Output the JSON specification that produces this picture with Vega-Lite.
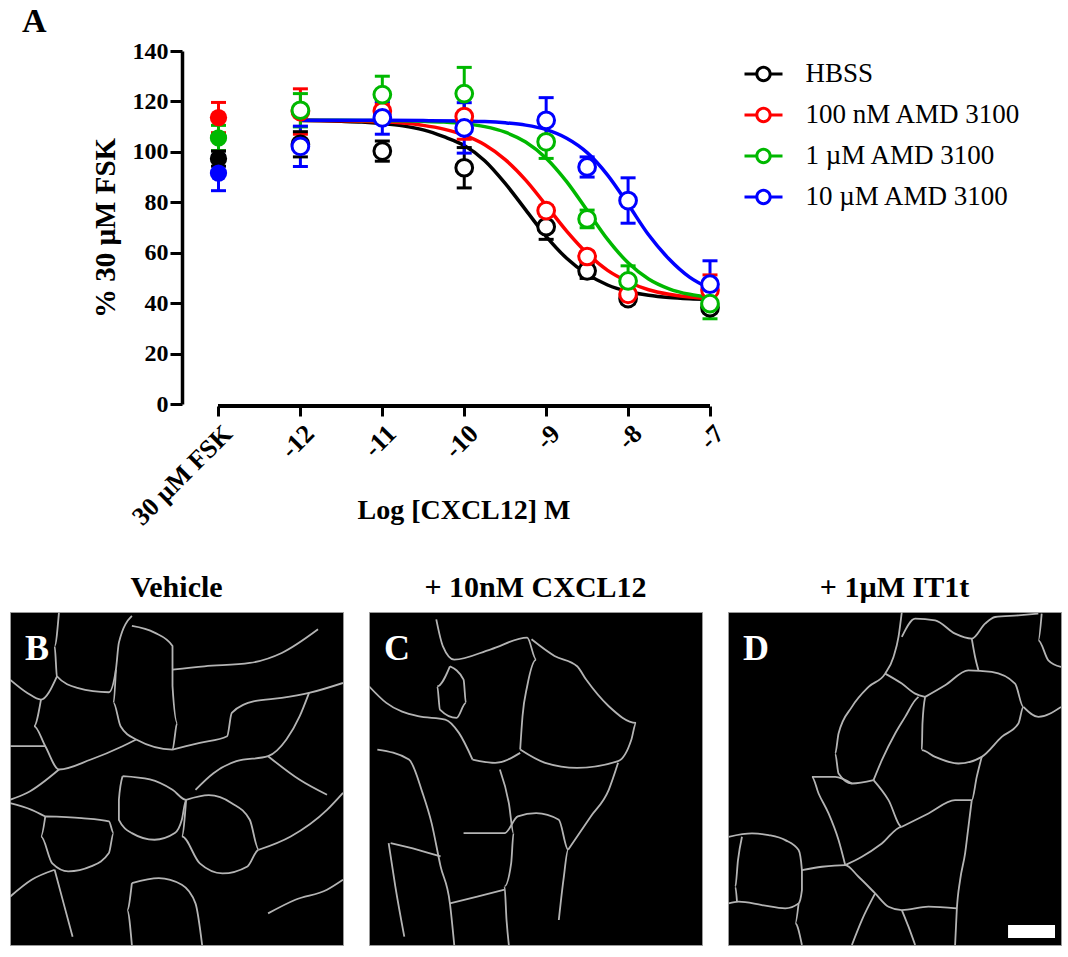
{
  "$schema": "https://vega.github.io/schema/vega-lite/v6.json",
  "padding": {"left": 9, "top": 5, "right": 5, "bottom": 5},
  "autosize": {"type": "pad"},
  "background": "white",
  "config": {
    "font": "Liberation Serif",
    "view": {"stroke": null},
    "axis": {"labelColor": "black", "titleColor": "black", "domainColor": "black", "tickColor": "black"}
  },
  "datasets": {
    "points": [
      {"series": "HBSS", "x": -13, "y": 97.3, "lo": 94.3, "hi": 100.3},
      {"series": "100 nM AMD 3100", "x": -13, "y": 113.6, "lo": 107.6, "hi": 119.6},
      {"series": "1 µM AMD 3100", "x": -13, "y": 105.5, "lo": 100.5, "hi": 110.5},
      {"series": "10 µM AMD 3100", "x": -13, "y": 91.6, "lo": 84.6, "hi": 98.6},
      {"series": "HBSS", "x": -12, "y": 103, "lo": 98, "hi": 108},
      {"series": "100 nM AMD 3100", "x": -12, "y": 116, "lo": 107, "hi": 125},
      {"series": "1 µM AMD 3100", "x": -12, "y": 116.5, "lo": 109.9, "hi": 123.1},
      {"series": "10 µM AMD 3100", "x": -12, "y": 102.2, "lo": 94.2, "hi": 110.2},
      {"series": "HBSS", "x": -11, "y": 100.3, "lo": 96.3, "hi": 104.3},
      {"series": "100 nM AMD 3100", "x": -11, "y": 116.2, "lo": 113.2, "hi": 119.2},
      {"series": "1 µM AMD 3100", "x": -11, "y": 122.7, "lo": 115.4, "hi": 130},
      {"series": "10 µM AMD 3100", "x": -11, "y": 113.5, "lo": 107, "hi": 120},
      {"series": "HBSS", "x": -10, "y": 93.7, "lo": 85.7, "hi": 101.7},
      {"series": "100 nM AMD 3100", "x": -10, "y": 114, "lo": 105, "hi": 123},
      {"series": "1 µM AMD 3100", "x": -10, "y": 123.1, "lo": 112.7, "hi": 133.5},
      {"series": "10 µM AMD 3100", "x": -10, "y": 109.5, "lo": 99.5, "hi": 119.5},
      {"series": "HBSS", "x": -9, "y": 70.3, "lo": 65.3, "hi": 75.3},
      {"series": "100 nM AMD 3100", "x": -9, "y": 76.7, "lo": 74.7, "hi": 78.7},
      {"series": "1 µM AMD 3100", "x": -9, "y": 104, "lo": 97.4, "hi": 110.6},
      {"series": "10 µM AMD 3100", "x": -9, "y": 112.5, "lo": 103.5, "hi": 121.5},
      {"series": "HBSS", "x": -8.5, "y": 52.8, "lo": 49.8, "hi": 55.8},
      {"series": "100 nM AMD 3100", "x": -8.5, "y": 58.5, "lo": 56.5, "hi": 60.5},
      {"series": "1 µM AMD 3100", "x": -8.5, "y": 73.4, "lo": 69.9, "hi": 76.9},
      {"series": "10 µM AMD 3100", "x": -8.5, "y": 94, "lo": 90, "hi": 98},
      {"series": "HBSS", "x": -8, "y": 41.8, "lo": 39.8, "hi": 43.8},
      {"series": "100 nM AMD 3100", "x": -8, "y": 43.5, "lo": 41.5, "hi": 45.5},
      {"series": "1 µM AMD 3100", "x": -8, "y": 48.8, "lo": 42.8, "hi": 54.8},
      {"series": "10 µM AMD 3100", "x": -8, "y": 80.7, "lo": 71.7, "hi": 89.7},
      {"series": "HBSS", "x": -7, "y": 38.2, "lo": 36.2, "hi": 40.2},
      {"series": "100 nM AMD 3100", "x": -7, "y": 45.2, "lo": 39.2, "hi": 51.2},
      {"series": "1 µM AMD 3100", "x": -7, "y": 39.8, "lo": 33.8, "hi": 45.8},
      {"series": "10 µM AMD 3100", "x": -7, "y": 47.5, "lo": 38.2, "hi": 56.8}
    ],
    "curves": [
      {"series": "HBSS", "x": -12, "y": 112.4},
      {"series": "HBSS", "x": -11.75, "y": 112.3},
      {"series": "HBSS", "x": -11.5, "y": 112.1},
      {"series": "HBSS", "x": -11.25, "y": 111.8},
      {"series": "HBSS", "x": -11, "y": 111.2},
      {"series": "HBSS", "x": -10.75, "y": 110.3},
      {"series": "HBSS", "x": -10.5, "y": 108.7},
      {"series": "HBSS", "x": -10.25, "y": 106.0},
      {"series": "HBSS", "x": -10, "y": 102.5},
      {"series": "HBSS", "x": -9.75, "y": 96.5},
      {"series": "HBSS", "x": -9.5, "y": 87.5},
      {"series": "HBSS", "x": -9.25, "y": 77},
      {"series": "HBSS", "x": -9, "y": 66.5},
      {"series": "HBSS", "x": -8.75, "y": 57.8},
      {"series": "HBSS", "x": -8.5, "y": 51.5},
      {"series": "HBSS", "x": -8.25, "y": 47.2},
      {"series": "HBSS", "x": -8, "y": 44.6},
      {"series": "HBSS", "x": -7.75, "y": 43.1},
      {"series": "HBSS", "x": -7.5, "y": 42.2},
      {"series": "HBSS", "x": -7.25, "y": 41.7},
      {"series": "HBSS", "x": -7, "y": 41.4},
      {"series": "100 nM AMD 3100", "x": -12, "y": 112.5},
      {"series": "100 nM AMD 3100", "x": -11.75, "y": 112.4},
      {"series": "100 nM AMD 3100", "x": -11.5, "y": 112.3},
      {"series": "100 nM AMD 3100", "x": -11.25, "y": 112.1},
      {"series": "100 nM AMD 3100", "x": -11, "y": 111.9},
      {"series": "100 nM AMD 3100", "x": -10.75, "y": 111.4},
      {"series": "100 nM AMD 3100", "x": -10.5, "y": 110.5},
      {"series": "100 nM AMD 3100", "x": -10.25, "y": 109.0},
      {"series": "100 nM AMD 3100", "x": -10, "y": 106.6},
      {"series": "100 nM AMD 3100", "x": -9.75, "y": 102.8},
      {"series": "100 nM AMD 3100", "x": -9.5, "y": 96.9},
      {"series": "100 nM AMD 3100", "x": -9.25, "y": 88.8},
      {"series": "100 nM AMD 3100", "x": -9, "y": 78.8},
      {"series": "100 nM AMD 3100", "x": -8.75, "y": 68.6},
      {"series": "100 nM AMD 3100", "x": -8.5, "y": 59.8},
      {"series": "100 nM AMD 3100", "x": -8.25, "y": 53.0},
      {"series": "100 nM AMD 3100", "x": -8, "y": 48.5},
      {"series": "100 nM AMD 3100", "x": -7.75, "y": 45.3},
      {"series": "100 nM AMD 3100", "x": -7.5, "y": 43.5},
      {"series": "100 nM AMD 3100", "x": -7.25, "y": 42.4},
      {"series": "100 nM AMD 3100", "x": -7, "y": 41.8},
      {"series": "1 µM AMD 3100", "x": -12, "y": 112.5},
      {"series": "1 µM AMD 3100", "x": -11.5, "y": 112.5},
      {"series": "1 µM AMD 3100", "x": -11, "y": 112.4},
      {"series": "1 µM AMD 3100", "x": -10.75, "y": 112.3},
      {"series": "1 µM AMD 3100", "x": -10.5, "y": 112.1},
      {"series": "1 µM AMD 3100", "x": -10.25, "y": 111.8},
      {"series": "1 µM AMD 3100", "x": -10, "y": 111.2},
      {"series": "1 µM AMD 3100", "x": -9.75, "y": 110.0},
      {"series": "1 µM AMD 3100", "x": -9.5, "y": 107.8},
      {"series": "1 µM AMD 3100", "x": -9.25, "y": 103.9},
      {"series": "1 µM AMD 3100", "x": -9, "y": 97.5},
      {"series": "1 µM AMD 3100", "x": -8.75, "y": 88.2},
      {"series": "1 µM AMD 3100", "x": -8.5, "y": 76.8},
      {"series": "1 µM AMD 3100", "x": -8.25, "y": 65.3},
      {"series": "1 µM AMD 3100", "x": -8, "y": 56.0},
      {"series": "1 µM AMD 3100", "x": -7.75, "y": 49.6},
      {"series": "1 µM AMD 3100", "x": -7.5, "y": 45.7},
      {"series": "1 µM AMD 3100", "x": -7.25, "y": 43.5},
      {"series": "1 µM AMD 3100", "x": -7, "y": 42.3},
      {"series": "10 µM AMD 3100", "x": -12, "y": 112.5},
      {"series": "10 µM AMD 3100", "x": -11, "y": 112.5},
      {"series": "10 µM AMD 3100", "x": -10.5, "y": 112.4},
      {"series": "10 µM AMD 3100", "x": -10, "y": 112.2},
      {"series": "10 µM AMD 3100", "x": -9.75, "y": 112.0},
      {"series": "10 µM AMD 3100", "x": -9.5, "y": 111.5},
      {"series": "10 µM AMD 3100", "x": -9.25, "y": 110.6},
      {"series": "10 µM AMD 3100", "x": -9, "y": 108.8},
      {"series": "10 µM AMD 3100", "x": -8.75, "y": 105.4},
      {"series": "10 µM AMD 3100", "x": -8.5, "y": 99.7},
      {"series": "10 µM AMD 3100", "x": -8.25, "y": 90.8},
      {"series": "10 µM AMD 3100", "x": -8, "y": 79.2},
      {"series": "10 µM AMD 3100", "x": -7.75, "y": 67.1},
      {"series": "10 µM AMD 3100", "x": -7.5, "y": 57.5},
      {"series": "10 µM AMD 3100", "x": -7.25, "y": 50.3},
      {"series": "10 µM AMD 3100", "x": -7, "y": 45.8}
    ],
    "cells": [
      {"k": "B", "letter": "B"},
      {"k": "C", "letter": "C"},
      {"k": "D", "letter": "D", "bar": 1},
      {"k": "B", "s": "b1", "o": 1, "u": 0.147, "v": 0.998},
      {"k": "B", "s": "b1", "o": 2, "u": 0.134, "v": 0.898},
      {"k": "B", "s": "b1", "o": 3, "u": 0.141, "v": 0.807},
      {"k": "B", "s": "b1", "o": 4, "u": 0.202, "v": 0.772},
      {"k": "B", "s": "b1", "o": 5, "u": 0.297, "v": 0.759},
      {"k": "B", "s": "b1", "o": 6, "u": 0.318, "v": 0.827},
      {"k": "B", "s": "b1", "o": 7, "u": 0.327, "v": 0.908},
      {"k": "B", "s": "b1", "o": 8, "u": 0.366, "v": 0.988},
      {"k": "B", "s": "b2", "o": 1, "u": 0.318, "v": 0.827},
      {"k": "B", "s": "b2", "o": 2, "u": 0.311, "v": 0.727},
      {"k": "B", "s": "b2", "o": 3, "u": 0.332, "v": 0.657},
      {"k": "B", "s": "b2", "o": 4, "u": 0.379, "v": 0.617},
      {"k": "B", "s": "b2", "o": 5, "u": 0.488, "v": 0.587},
      {"k": "B", "s": "b2", "o": 6, "u": 0.502, "v": 0.667},
      {"k": "B", "s": "b2", "o": 7, "u": 0.488, "v": 0.778},
      {"k": "B", "s": "b2", "o": 8, "u": 0.488, "v": 0.898},
      {"k": "B", "s": "b2", "o": 9, "u": 0.434, "v": 0.938},
      {"k": "B", "s": "b2", "o": 10, "u": 0.366, "v": 0.958},
      {"k": "B", "s": "b3", "o": 1, "u": 0.0, "v": 0.797},
      {"k": "B", "s": "b3", "o": 2, "u": 0.052, "v": 0.757},
      {"k": "B", "s": "b3", "o": 3, "u": 0.093, "v": 0.737},
      {"k": "B", "s": "b3", "o": 4, "u": 0.141, "v": 0.807},
      {"k": "B", "s": "b4", "o": 1, "u": 0.093, "v": 0.737},
      {"k": "B", "s": "b4", "o": 2, "u": 0.072, "v": 0.657},
      {"k": "B", "s": "b4", "o": 3, "u": 0.106, "v": 0.597},
      {"k": "B", "s": "b4", "o": 4, "u": 0.147, "v": 0.527},
      {"k": "B", "s": "b4", "o": 5, "u": 0.243, "v": 0.557},
      {"k": "B", "s": "b4", "o": 6, "u": 0.338, "v": 0.597},
      {"k": "B", "s": "b4", "o": 7, "u": 0.379, "v": 0.617},
      {"k": "B", "s": "b5", "o": 1, "u": 0.0, "v": 0.597},
      {"k": "B", "s": "b5", "o": 2, "u": 0.106, "v": 0.597},
      {"k": "B", "s": "b6", "o": 1, "u": 0.147, "v": 0.527},
      {"k": "B", "s": "b6", "o": 2, "u": 0.052, "v": 0.457},
      {"k": "B", "s": "b6", "o": 3, "u": 0.0, "v": 0.436},
      {"k": "B", "s": "b7", "o": 1, "u": 0.488, "v": 0.587},
      {"k": "B", "s": "b7", "o": 2, "u": 0.57, "v": 0.607},
      {"k": "B", "s": "b7", "o": 3, "u": 0.652, "v": 0.627},
      {"k": "B", "s": "b7", "o": 4, "u": 0.666, "v": 0.697},
      {"k": "B", "s": "b7", "o": 5, "u": 0.734, "v": 0.732},
      {"k": "B", "s": "b7", "o": 6, "u": 0.816, "v": 0.742},
      {"k": "B", "s": "b7", "o": 7, "u": 0.898, "v": 0.757},
      {"k": "B", "s": "b7", "o": 8, "u": 1.0, "v": 0.787},
      {"k": "B", "s": "b8", "o": 1, "u": 0.898, "v": 0.757},
      {"k": "B", "s": "b8", "o": 2, "u": 0.87, "v": 0.687},
      {"k": "B", "s": "b8", "o": 3, "u": 0.83, "v": 0.617},
      {"k": "B", "s": "b8", "o": 4, "u": 0.775, "v": 0.567},
      {"k": "B", "s": "b8", "o": 5, "u": 0.68, "v": 0.552},
      {"k": "B", "s": "b8", "o": 6, "u": 0.611, "v": 0.516},
      {"k": "B", "s": "b8", "o": 7, "u": 0.557, "v": 0.466},
      {"k": "B", "s": "b9", "o": 1, "u": 0.488, "v": 0.827},
      {"k": "B", "s": "b9", "o": 2, "u": 0.584, "v": 0.837},
      {"k": "B", "s": "b9", "o": 3, "u": 0.72, "v": 0.847},
      {"k": "B", "s": "b9", "o": 4, "u": 0.816, "v": 0.877},
      {"k": "B", "s": "b9", "o": 5, "u": 0.925, "v": 0.948},
      {"k": "B", "s": "b10", "o": 1, "u": 0.338, "v": 0.507},
      {"k": "B", "s": "b10", "o": 2, "u": 0.327, "v": 0.436},
      {"k": "B", "s": "b10", "o": 3, "u": 0.327, "v": 0.376},
      {"k": "B", "s": "b10", "o": 4, "u": 0.366, "v": 0.336},
      {"k": "B", "s": "b10", "o": 5, "u": 0.434, "v": 0.316},
      {"k": "B", "s": "b10", "o": 6, "u": 0.495, "v": 0.336},
      {"k": "B", "s": "b10", "o": 7, "u": 0.516, "v": 0.376},
      {"k": "B", "s": "b10", "o": 8, "u": 0.529, "v": 0.436},
      {"k": "B", "s": "b10", "o": 9, "u": 0.488, "v": 0.466},
      {"k": "B", "s": "b10", "o": 10, "u": 0.42, "v": 0.497},
      {"k": "B", "s": "b10", "o": 11, "u": 0.338, "v": 0.507},
      {"k": "B", "s": "b11", "o": 1, "u": 0.529, "v": 0.436},
      {"k": "B", "s": "b11", "o": 2, "u": 0.516, "v": 0.326},
      {"k": "B", "s": "b11", "o": 3, "u": 0.57, "v": 0.245},
      {"k": "B", "s": "b11", "o": 4, "u": 0.638, "v": 0.215},
      {"k": "B", "s": "b11", "o": 5, "u": 0.713, "v": 0.236},
      {"k": "B", "s": "b11", "o": 6, "u": 0.747, "v": 0.286},
      {"k": "B", "s": "b11", "o": 7, "u": 0.72, "v": 0.376},
      {"k": "B", "s": "b11", "o": 8, "u": 0.666, "v": 0.426},
      {"k": "B", "s": "b11", "o": 9, "u": 0.597, "v": 0.45},
      {"k": "B", "s": "b11", "o": 10, "u": 0.529, "v": 0.436},
      {"k": "B", "s": "b12", "o": 1, "u": 0.106, "v": 0.386},
      {"k": "B", "s": "b12", "o": 2, "u": 0.093, "v": 0.326},
      {"k": "B", "s": "b12", "o": 3, "u": 0.127, "v": 0.245},
      {"k": "B", "s": "b12", "o": 4, "u": 0.175, "v": 0.221},
      {"k": "B", "s": "b12", "o": 5, "u": 0.243, "v": 0.236},
      {"k": "B", "s": "b12", "o": 6, "u": 0.297, "v": 0.276},
      {"k": "B", "s": "b12", "o": 7, "u": 0.311, "v": 0.336},
      {"k": "B", "s": "b12", "o": 8, "u": 0.297, "v": 0.371},
      {"k": "B", "s": "b12", "o": 9, "u": 0.215, "v": 0.381},
      {"k": "B", "s": "b12", "o": 10, "u": 0.106, "v": 0.386},
      {"k": "B", "s": "b13", "o": 1, "u": 0.0, "v": 0.426},
      {"k": "B", "s": "b13", "o": 2, "u": 0.065, "v": 0.406},
      {"k": "B", "s": "b13", "o": 3, "u": 0.106, "v": 0.386},
      {"k": "B", "s": "b14", "o": 1, "u": 0.366, "v": 0.186},
      {"k": "B", "s": "b14", "o": 2, "u": 0.352, "v": 0.105},
      {"k": "B", "s": "b14", "o": 3, "u": 0.366, "v": 0.0},
      {"k": "B", "s": "b15", "o": 1, "u": 0.366, "v": 0.186},
      {"k": "B", "s": "b15", "o": 2, "u": 0.447, "v": 0.201},
      {"k": "B", "s": "b15", "o": 3, "u": 0.516, "v": 0.181},
      {"k": "B", "s": "b15", "o": 4, "u": 0.557, "v": 0.125},
      {"k": "B", "s": "b15", "o": 5, "u": 0.577, "v": 0.0},
      {"k": "B", "s": "b16", "o": 1, "u": 0.747, "v": 0.286},
      {"k": "B", "s": "b16", "o": 2, "u": 0.843, "v": 0.326},
      {"k": "B", "s": "b16", "o": 3, "u": 0.952, "v": 0.406},
      {"k": "B", "s": "b16", "o": 4, "u": 1.0, "v": 0.457},
      {"k": "B", "s": "b17", "o": 1, "u": 0.775, "v": 0.095},
      {"k": "B", "s": "b17", "o": 2, "u": 0.857, "v": 0.136},
      {"k": "B", "s": "b17", "o": 3, "u": 0.952, "v": 0.166},
      {"k": "B", "s": "b17", "o": 4, "u": 1.0, "v": 0.196},
      {"k": "B", "s": "b18", "o": 1, "u": 0.0, "v": 0.145},
      {"k": "B", "s": "b18", "o": 2, "u": 0.065, "v": 0.196},
      {"k": "B", "s": "b18", "o": 3, "u": 0.134, "v": 0.226},
      {"k": "B", "s": "b19", "o": 1, "u": 0.134, "v": 0.226},
      {"k": "B", "s": "b19", "o": 2, "u": 0.161, "v": 0.125},
      {"k": "B", "s": "b19", "o": 3, "u": 0.188, "v": 0.025},
      {"k": "B", "s": "b20", "o": 1, "u": 0.775, "v": 0.567},
      {"k": "B", "s": "b20", "o": 2, "u": 0.87, "v": 0.496},
      {"k": "B", "s": "b20", "o": 3, "u": 0.952, "v": 0.451},
      {"k": "C", "s": "c1", "o": 1, "u": 0.0, "v": 0.777},
      {"k": "C", "s": "c1", "o": 2, "u": 0.052, "v": 0.727},
      {"k": "C", "s": "c1", "o": 3, "u": 0.147, "v": 0.687},
      {"k": "C", "s": "c1", "o": 4, "u": 0.229, "v": 0.677},
      {"k": "C", "s": "c1", "o": 5, "u": 0.27, "v": 0.637},
      {"k": "C", "s": "c1", "o": 6, "u": 0.311, "v": 0.557},
      {"k": "C", "s": "c2", "o": 1, "u": 0.243, "v": 0.837},
      {"k": "C", "s": "c2", "o": 2, "u": 0.205, "v": 0.777},
      {"k": "C", "s": "c2", "o": 3, "u": 0.213, "v": 0.707},
      {"k": "C", "s": "c2", "o": 4, "u": 0.263, "v": 0.682},
      {"k": "C", "s": "c2", "o": 5, "u": 0.291, "v": 0.727},
      {"k": "C", "s": "c2", "o": 6, "u": 0.284, "v": 0.797},
      {"k": "C", "s": "c2", "o": 7, "u": 0.243, "v": 0.837},
      {"k": "C", "s": "c3", "o": 1, "u": 0.202, "v": 0.978},
      {"k": "C", "s": "c3", "o": 2, "u": 0.222, "v": 0.897},
      {"k": "C", "s": "c3", "o": 3, "u": 0.256, "v": 0.857},
      {"k": "C", "s": "c3", "o": 4, "u": 0.366, "v": 0.888},
      {"k": "C", "s": "c3", "o": 5, "u": 0.475, "v": 0.923},
      {"k": "C", "s": "c3", "o": 6, "u": 0.502, "v": 0.857},
      {"k": "C", "s": "c3", "o": 7, "u": 0.475, "v": 0.777},
      {"k": "C", "s": "c3", "o": 8, "u": 0.461, "v": 0.687},
      {"k": "C", "s": "c3", "o": 9, "u": 0.454, "v": 0.587},
      {"k": "C", "s": "c4", "o": 1, "u": 0.454, "v": 0.587},
      {"k": "C", "s": "c4", "o": 2, "u": 0.529, "v": 0.547},
      {"k": "C", "s": "c4", "o": 3, "u": 0.625, "v": 0.532},
      {"k": "C", "s": "c4", "o": 4, "u": 0.748, "v": 0.552},
      {"k": "C", "s": "c4", "o": 5, "u": 0.788, "v": 0.617},
      {"k": "C", "s": "c4", "o": 6, "u": 0.802, "v": 0.667},
      {"k": "C", "s": "c4", "o": 7, "u": 0.72, "v": 0.717},
      {"k": "C", "s": "c4", "o": 8, "u": 0.652, "v": 0.797},
      {"k": "C", "s": "c4", "o": 9, "u": 0.625, "v": 0.837},
      {"k": "C", "s": "c4", "o": 10, "u": 0.557, "v": 0.868},
      {"k": "C", "s": "c4", "o": 11, "u": 0.488, "v": 0.918},
      {"k": "C", "s": "c5", "o": 1, "u": 0.311, "v": 0.557},
      {"k": "C", "s": "c5", "o": 2, "u": 0.379, "v": 0.547},
      {"k": "C", "s": "c5", "o": 3, "u": 0.454, "v": 0.577},
      {"k": "C", "s": "c6", "o": 1, "u": 0.025, "v": 0.587},
      {"k": "C", "s": "c6", "o": 2, "u": 0.12, "v": 0.557},
      {"k": "C", "s": "c6", "o": 3, "u": 0.161, "v": 0.456},
      {"k": "C", "s": "c6", "o": 4, "u": 0.188, "v": 0.366},
      {"k": "C", "s": "c6", "o": 5, "u": 0.215, "v": 0.236},
      {"k": "C", "s": "c6", "o": 6, "u": 0.243, "v": 0.125},
      {"k": "C", "s": "c6", "o": 7, "u": 0.256, "v": 0.0},
      {"k": "C", "s": "c7", "o": 1, "u": 0.059, "v": 0.306},
      {"k": "C", "s": "c7", "o": 2, "u": 0.079, "v": 0.176},
      {"k": "C", "s": "c7", "o": 3, "u": 0.106, "v": 0.025},
      {"k": "C", "s": "c8", "o": 1, "u": 0.065, "v": 0.306},
      {"k": "C", "s": "c8", "o": 2, "u": 0.147, "v": 0.286},
      {"k": "C", "s": "c8", "o": 3, "u": 0.215, "v": 0.266},
      {"k": "C", "s": "c9", "o": 1, "u": 0.284, "v": 0.336},
      {"k": "C", "s": "c9", "o": 2, "u": 0.407, "v": 0.336},
      {"k": "C", "s": "c9", "o": 3, "u": 0.447, "v": 0.386},
      {"k": "C", "s": "c9", "o": 4, "u": 0.502, "v": 0.396},
      {"k": "C", "s": "c9", "o": 5, "u": 0.57, "v": 0.376},
      {"k": "C", "s": "c9", "o": 6, "u": 0.598, "v": 0.286},
      {"k": "C", "s": "c9", "o": 7, "u": 0.584, "v": 0.196},
      {"k": "C", "s": "c9", "o": 8, "u": 0.57, "v": 0.075},
      {"k": "C", "s": "c10", "o": 1, "u": 0.393, "v": 0.527},
      {"k": "C", "s": "c10", "o": 2, "u": 0.42, "v": 0.426},
      {"k": "C", "s": "c10", "o": 3, "u": 0.434, "v": 0.336},
      {"k": "C", "s": "c10", "o": 4, "u": 0.427, "v": 0.246},
      {"k": "C", "s": "c10", "o": 5, "u": 0.407, "v": 0.176},
      {"k": "C", "s": "c10", "o": 6, "u": 0.413, "v": 0.075},
      {"k": "C", "s": "c10", "o": 7, "u": 0.42, "v": 0.0},
      {"k": "C", "s": "c11", "o": 1, "u": 0.598, "v": 0.286},
      {"k": "C", "s": "c11", "o": 2, "u": 0.666, "v": 0.386},
      {"k": "C", "s": "c11", "o": 3, "u": 0.72, "v": 0.466},
      {"k": "C", "s": "c11", "o": 4, "u": 0.748, "v": 0.547},
      {"k": "C", "s": "c12", "o": 1, "u": 0.243, "v": 0.125},
      {"k": "C", "s": "c12", "o": 2, "u": 0.325, "v": 0.145},
      {"k": "C", "s": "c12", "o": 3, "u": 0.407, "v": 0.166},
      {"k": "D", "s": "d1", "o": 1, "u": 0.522, "v": 1.0},
      {"k": "D", "s": "d1", "o": 2, "u": 0.512, "v": 0.925},
      {"k": "D", "s": "d1", "o": 3, "u": 0.497, "v": 0.865},
      {"k": "D", "s": "d1", "o": 4, "u": 0.472, "v": 0.815},
      {"k": "D", "s": "d1", "o": 5, "u": 0.422, "v": 0.775},
      {"k": "D", "s": "d1", "o": 6, "u": 0.372, "v": 0.715},
      {"k": "D", "s": "d1", "o": 7, "u": 0.332, "v": 0.635},
      {"k": "D", "s": "d1", "o": 8, "u": 0.322, "v": 0.575},
      {"k": "D", "s": "d1", "o": 9, "u": 0.332, "v": 0.515},
      {"k": "D", "s": "d1", "o": 10, "u": 0.372, "v": 0.485},
      {"k": "D", "s": "d1", "o": 11, "u": 0.437, "v": 0.495},
      {"k": "D", "s": "d2", "o": 1, "u": 0.437, "v": 0.495},
      {"k": "D", "s": "d2", "o": 2, "u": 0.462, "v": 0.555},
      {"k": "D", "s": "d2", "o": 3, "u": 0.502, "v": 0.635},
      {"k": "D", "s": "d2", "o": 4, "u": 0.532, "v": 0.685},
      {"k": "D", "s": "d2", "o": 5, "u": 0.562, "v": 0.735},
      {"k": "D", "s": "d2", "o": 6, "u": 0.572, "v": 0.745},
      {"k": "D", "s": "d3", "o": 1, "u": 0.592, "v": 0.745},
      {"k": "D", "s": "d3", "o": 2, "u": 0.652, "v": 0.78},
      {"k": "D", "s": "d3", "o": 3, "u": 0.722, "v": 0.825},
      {"k": "D", "s": "d3", "o": 4, "u": 0.792, "v": 0.82},
      {"k": "D", "s": "d3", "o": 5, "u": 0.862, "v": 0.785},
      {"k": "D", "s": "d3", "o": 6, "u": 0.887, "v": 0.715},
      {"k": "D", "s": "d3", "o": 7, "u": 0.872, "v": 0.665},
      {"k": "D", "s": "d3", "o": 8, "u": 0.822, "v": 0.625},
      {"k": "D", "s": "d3", "o": 9, "u": 0.762, "v": 0.565},
      {"k": "D", "s": "d3", "o": 10, "u": 0.692, "v": 0.545},
      {"k": "D", "s": "d3", "o": 11, "u": 0.622, "v": 0.565},
      {"k": "D", "s": "d3", "o": 12, "u": 0.582, "v": 0.585},
      {"k": "D", "s": "d3", "o": 13, "u": 0.584, "v": 0.665},
      {"k": "D", "s": "d3", "o": 14, "u": 0.592, "v": 0.745},
      {"k": "D", "s": "d3b", "o": 1, "u": 0.472, "v": 0.815},
      {"k": "D", "s": "d3b", "o": 2, "u": 0.522, "v": 0.785},
      {"k": "D", "s": "d3b", "o": 3, "u": 0.562, "v": 0.755},
      {"k": "D", "s": "d3b", "o": 4, "u": 0.592, "v": 0.745},
      {"k": "D", "s": "d4", "o": 1, "u": 0.522, "v": 0.925},
      {"k": "D", "s": "d4", "o": 2, "u": 0.562, "v": 0.98},
      {"k": "D", "s": "d4", "o": 3, "u": 0.622, "v": 0.975},
      {"k": "D", "s": "d4", "o": 4, "u": 0.682, "v": 0.935},
      {"k": "D", "s": "d4", "o": 5, "u": 0.732, "v": 0.92},
      {"k": "D", "s": "d4", "o": 6, "u": 0.772, "v": 0.965},
      {"k": "D", "s": "d4", "o": 7, "u": 0.802, "v": 0.985},
      {"k": "D", "s": "d4", "o": 8, "u": 0.872, "v": 0.99},
      {"k": "D", "s": "d4", "o": 9, "u": 0.932, "v": 0.995},
      {"k": "D", "s": "d5", "o": 1, "u": 0.732, "v": 0.92},
      {"k": "D", "s": "d5", "o": 2, "u": 0.742, "v": 0.865},
      {"k": "D", "s": "d5", "o": 3, "u": 0.752, "v": 0.825},
      {"k": "D", "s": "d6", "o": 1, "u": 0.887, "v": 0.715},
      {"k": "D", "s": "d6", "o": 2, "u": 0.932, "v": 0.685},
      {"k": "D", "s": "d6", "o": 3, "u": 1.0, "v": 0.715},
      {"k": "D", "s": "d7", "o": 1, "u": 0.942, "v": 0.995},
      {"k": "D", "s": "d7", "o": 2, "u": 0.932, "v": 0.915},
      {"k": "D", "s": "d7", "o": 3, "u": 0.962, "v": 0.855},
      {"k": "D", "s": "d7", "o": 4, "u": 1.0, "v": 0.835},
      {"k": "D", "s": "d8", "o": 1, "u": 0.437, "v": 0.495},
      {"k": "D", "s": "d8", "o": 2, "u": 0.482, "v": 0.435},
      {"k": "D", "s": "d8", "o": 3, "u": 0.522, "v": 0.355},
      {"k": "D", "s": "d8", "o": 4, "u": 0.462, "v": 0.305},
      {"k": "D", "s": "d8", "o": 5, "u": 0.402, "v": 0.265},
      {"k": "D", "s": "d8", "o": 6, "u": 0.352, "v": 0.24},
      {"k": "D", "s": "d9", "o": 1, "u": 0.372, "v": 0.485},
      {"k": "D", "s": "d9", "o": 2, "u": 0.322, "v": 0.505},
      {"k": "D", "s": "d9", "o": 3, "u": 0.252, "v": 0.505},
      {"k": "D", "s": "d9", "o": 4, "u": 0.272, "v": 0.455},
      {"k": "D", "s": "d9", "o": 5, "u": 0.302, "v": 0.395},
      {"k": "D", "s": "d9", "o": 6, "u": 0.332, "v": 0.315},
      {"k": "D", "s": "d9", "o": 7, "u": 0.352, "v": 0.24},
      {"k": "D", "s": "d10", "o": 1, "u": 0.522, "v": 0.355},
      {"k": "D", "s": "d10", "o": 2, "u": 0.602, "v": 0.395},
      {"k": "D", "s": "d10", "o": 3, "u": 0.682, "v": 0.435},
      {"k": "D", "s": "d10", "o": 4, "u": 0.732, "v": 0.435},
      {"k": "D", "s": "d10", "o": 5, "u": 0.747, "v": 0.505},
      {"k": "D", "s": "d10", "o": 6, "u": 0.762, "v": 0.565},
      {"k": "D", "s": "d11", "o": 1, "u": 0.732, "v": 0.435},
      {"k": "D", "s": "d11", "o": 2, "u": 0.722, "v": 0.355},
      {"k": "D", "s": "d11", "o": 3, "u": 0.712, "v": 0.275},
      {"k": "D", "s": "d11", "o": 4, "u": 0.697, "v": 0.195},
      {"k": "D", "s": "d11", "o": 5, "u": 0.687, "v": 0.105},
      {"k": "D", "s": "d11", "o": 6, "u": 0.682, "v": 0.0},
      {"k": "D", "s": "d12", "o": 1, "u": 0.002, "v": 0.325},
      {"k": "D", "s": "d12", "o": 2, "u": 0.072, "v": 0.335},
      {"k": "D", "s": "d12", "o": 3, "u": 0.122, "v": 0.33},
      {"k": "D", "s": "d12", "o": 4, "u": 0.172, "v": 0.315},
      {"k": "D", "s": "d12", "o": 5, "u": 0.212, "v": 0.285},
      {"k": "D", "s": "d12", "o": 6, "u": 0.222, "v": 0.225},
      {"k": "D", "s": "d12", "o": 7, "u": 0.222, "v": 0.165},
      {"k": "D", "s": "d12", "o": 8, "u": 0.212, "v": 0.125},
      {"k": "D", "s": "d12", "o": 9, "u": 0.172, "v": 0.11},
      {"k": "D", "s": "d12", "o": 10, "u": 0.102, "v": 0.12},
      {"k": "D", "s": "d12", "o": 11, "u": 0.032, "v": 0.13},
      {"k": "D", "s": "d12", "o": 12, "u": 0.002, "v": 0.125},
      {"k": "D", "s": "d13", "o": 1, "u": 0.042, "v": 0.325},
      {"k": "D", "s": "d13", "o": 2, "u": 0.03, "v": 0.255},
      {"k": "D", "s": "d13", "o": 3, "u": 0.022, "v": 0.175},
      {"k": "D", "s": "d13", "o": 4, "u": 0.027, "v": 0.13},
      {"k": "D", "s": "d14", "o": 1, "u": 0.222, "v": 0.225},
      {"k": "D", "s": "d14", "o": 2, "u": 0.282, "v": 0.235},
      {"k": "D", "s": "d14", "o": 3, "u": 0.352, "v": 0.24},
      {"k": "D", "s": "d14", "o": 4, "u": 0.392, "v": 0.205},
      {"k": "D", "s": "d14", "o": 5, "u": 0.442, "v": 0.155},
      {"k": "D", "s": "d14", "o": 6, "u": 0.482, "v": 0.115},
      {"k": "D", "s": "d14", "o": 7, "u": 0.522, "v": 0.105},
      {"k": "D", "s": "d14", "o": 8, "u": 0.602, "v": 0.115},
      {"k": "D", "s": "d14", "o": 9, "u": 0.687, "v": 0.11},
      {"k": "D", "s": "d15", "o": 1, "u": 0.212, "v": 0.125},
      {"k": "D", "s": "d15", "o": 2, "u": 0.202, "v": 0.065},
      {"k": "D", "s": "d15", "o": 3, "u": 0.222, "v": 0.0},
      {"k": "D", "s": "d16", "o": 1, "u": 0.442, "v": 0.155},
      {"k": "D", "s": "d16", "o": 2, "u": 0.402, "v": 0.075},
      {"k": "D", "s": "d16", "o": 3, "u": 0.372, "v": 0.0},
      {"k": "D", "s": "d17", "o": 1, "u": 0.522, "v": 0.105},
      {"k": "D", "s": "d17", "o": 2, "u": 0.542, "v": 0.055},
      {"k": "D", "s": "d17", "o": 3, "u": 0.562, "v": 0.0}
    ]
  },
  "spacing": 43,
  "vconcat": [
    {
      "title": {"text": "A", "anchor": "start", "frame": "group", "dx": 12, "offset": 0, "fontSize": 34, "fontWeight": "bold", "font": "Liberation Serif", "color": "black"},
      "width": 700,
      "height": 353,
      "layer": [
        {
          "data": {"name": "curves"},
          "mark": {"type": "line", "strokeWidth": 3.5, "interpolate": "monotone", "clip": false},
          "encoding": {
            "x": {"field": "x", "type": "quantitative", "title": "Log [CXCL12] M",
              "scale": {"domain": [-15.545, -7], "nice": false, "zero": false},
              "axis": {"values": [-13, -12, -11, -10, -9, -8, -7], "labelExpr": "datum.value == -13 ? '30 µM FSK' : '' + datum.value", "domain": false, "grid": false, "offset": 2, "tickSize": 10, "tickWidth": 3, "labelAngle": -45, "labelFontSize": 26, "labelFontWeight": "bold", "labelPadding": 4, "labelFlush": false, "labelOverlap": false, "titleFontSize": 28, "titleFontWeight": "bold", "titleX": 453.5, "titleY": 90, "titleBaseline": "top"}},
            "y": {"field": "y", "type": "quantitative", "title": "% 30 µM FSK",
              "scale": {"domain": [0, 140], "nice": false, "zero": false},
              "axis": {"values": [0, 20, 40, 60, 80, 100, 120, 140], "offset": -172, "grid": false, "domainWidth": 3.5, "tickSize": 12, "tickWidth": 3, "labelFontSize": 24, "labelFontWeight": "bold", "labelPadding": 2, "titleFontSize": 29, "titleFontWeight": "bold", "titlePadding": 12}},
            "color": {"field": "series", "type": "nominal",
              "scale": {"domain": ["HBSS", "100 nM AMD 3100", "1 µM AMD 3100", "10 µM AMD 3100"], "range": ["#000000", "#FF0000", "#00B800", "#0000FF"]},
              "legend": {"title": null, "orient": "none", "legendX": 734.5, "legendY": 4, "padding": 0, "labelFontSize": 27, "labelFont": "Liberation Serif", "labelColor": "black", "labelLimit": 0, "labelOffset": 23, "rowPadding": 9, "symbolType": "M-1,-0.08H-0.4V0.08H-1Z M0.4,-0.08H1V0.08H0.4Z M0.43,0A0.43,0.43,0,1,1,-0.43,0A0.43,0.43,0,1,1,0.43,0Z M0.27,0A0.27,0.27,0,1,0,-0.27,0A0.27,0.27,0,1,0,0.27,0Z", "symbolSize": 1444, "symbolStrokeWidth": 0,
                "encode": {"symbols": {"update": {"fill": {"scale": "color", "field": "value"}, "strokeWidth": {"value": 0}, "opacity": {"value": 1}}}}}}
          }
        },
        {
          "data": {"name": "points"},
          "mark": {"type": "rule", "strokeWidth": 3.5, "color": "black"},
          "encoding": {"x": {"datum": -13, "title": "Log [CXCL12] M"}, "x2": {"datum": -7}, "y": {"datum": -0.8, "title": "% 30 µM FSK"}}
        },
        {
          "data": {"name": "points"},
          "mark": {"type": "rule", "strokeWidth": 3, "clip": false},
          "encoding": {
            "x": {"field": "x", "type": "quantitative", "title": "Log [CXCL12] M"},
            "y": {"field": "lo", "type": "quantitative", "title": "% 30 µM FSK"},
            "y2": {"field": "hi"},
            "stroke": {"field": "series", "type": "nominal", "legend": null,
              "scale": {"domain": ["HBSS", "100 nM AMD 3100", "1 µM AMD 3100", "10 µM AMD 3100"], "range": ["#000000", "#FF0000", "#00B800", "#0000FF"]}}
          }
        },
        {
          "data": {"name": "points"},
          "mark": {"type": "point", "shape": "stroke", "filled": false, "strokeWidth": 3, "size": 225, "opacity": 1, "clip": false},
          "encoding": {
            "x": {"field": "x", "type": "quantitative", "title": "Log [CXCL12] M"},
            "y": {"field": "lo", "type": "quantitative", "title": "% 30 µM FSK"},
            "stroke": {"field": "series", "type": "nominal", "legend": null}
          }
        },
        {
          "data": {"name": "points"},
          "mark": {"type": "point", "shape": "stroke", "filled": false, "strokeWidth": 3, "size": 225, "opacity": 1, "clip": false},
          "encoding": {
            "x": {"field": "x", "type": "quantitative", "title": "Log [CXCL12] M"},
            "y": {"field": "hi", "type": "quantitative", "title": "% 30 µM FSK"},
            "stroke": {"field": "series", "type": "nominal", "legend": null}
          }
        },
        {
          "data": {"name": "points"},
          "transform": [{"filter": "datum.x == -13"}],
          "mark": {"type": "point", "shape": "circle", "filled": true, "size": 300, "opacity": 1, "strokeWidth": 0},
          "encoding": {
            "x": {"field": "x", "type": "quantitative", "title": "Log [CXCL12] M"},
            "y": {"field": "y", "type": "quantitative", "title": "% 30 µM FSK"},
            "fill": {"field": "series", "type": "nominal", "legend": null,
              "scale": {"domain": ["HBSS", "100 nM AMD 3100", "1 µM AMD 3100", "10 µM AMD 3100"], "range": ["#000000", "#FF0000", "#00B800", "#0000FF"]}}
          }
        },
        {
          "data": {"name": "points"},
          "transform": [{"filter": "datum.x > -13"}],
          "mark": {"type": "point", "shape": "circle", "filled": false, "fill": "white", "fillOpacity": 1, "strokeWidth": 3, "size": 280, "opacity": 1},
          "encoding": {
            "x": {"field": "x", "type": "quantitative", "title": "Log [CXCL12] M"},
            "y": {"field": "y", "type": "quantitative", "title": "% 30 µM FSK"},
            "stroke": {"field": "series", "type": "nominal", "legend": null}
          }
        }
      ]
    },
    {
      "data": {"name": "cells"},
      "facet": {"column": {"field": "k", "type": "nominal", "sort": ["B", "C", "D"],
        "header": {"title": null, "labelExpr": "datum.value == 'B' ? 'Vehicle' : datum.value == 'C' ? '+ 10nM CXCL12' : '+ 1µM IT1t'", "labelFontSize": 30, "labelFontWeight": "bold", "labelFont": "Liberation Serif", "labelColor": "black", "labelPadding": 8}}},
      "spacing": 24,
      "spec": {
        "width": 333,
        "height": 333,
        "view": {"fill": "black", "stroke": "#999999", "strokeWidth": 1},
        "layer": [
          {
            "transform": [{"filter": "isValid(datum.s)"}],
            "mark": {"type": "line", "color": "#b4b4b4", "strokeWidth": 1.8, "interpolate": "monotone", "clip": true},
            "encoding": {
              "x": {"field": "u", "type": "quantitative", "scale": {"domain": [0, 1], "nice": false, "zero": false}, "axis": null},
              "y": {"field": "v", "type": "quantitative", "scale": {"domain": [0, 1], "nice": false, "zero": false}, "axis": null},
              "detail": {"field": "s"},
              "order": {"field": "o", "type": "quantitative"}
            }
          },
          {
            "transform": [{"filter": "isValid(datum.letter)"}],
            "mark": {"type": "text", "color": "white", "fontSize": 36, "fontWeight": "bold", "font": "Liberation Serif", "align": "left", "baseline": "alphabetic"},
            "encoding": {
              "text": {"field": "letter"},
              "x": {"datum": 0.045, "type": "quantitative"},
              "y": {"datum": 0.855, "type": "quantitative"}
            }
          },
          {
            "transform": [{"filter": "datum.bar == 1"}],
            "mark": {"type": "rect", "color": "white"},
            "encoding": {
              "x": {"datum": 0.841, "type": "quantitative"},
              "x2": {"datum": 0.982},
              "y": {"datum": 0.021, "type": "quantitative"},
              "y2": {"datum": 0.06}
            }
          }
        ]
      }
    }
  ]
}
